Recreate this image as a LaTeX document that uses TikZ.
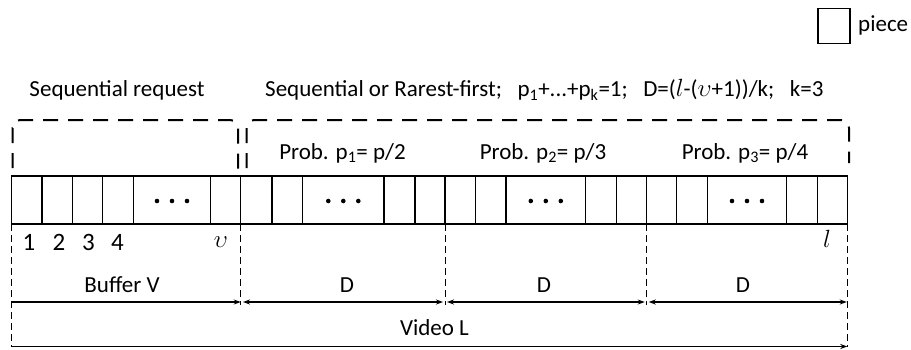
\documentclass[tikz,border=0pt]{standalone}
\usepackage{fontspec}
\setmainfont{Carlito}
\usetikzlibrary{arrows.meta}

\begin{document}
\begin{tikzpicture}[x=1pt,y=-1pt,
  cellline/.style={line width=1.4pt},
  guide/.style={line width=1pt, dash pattern=on 7pt off 4pt},
  bracket/.style={line width=2pt, dash pattern=on 15pt off 10pt, rounded corners=8pt},
  dimboth/.style={line width=1.5pt, {Stealth[length=7pt,width=5pt]}-{Stealth[length=7pt,width=5pt]}},
  dimone/.style={line width=1.5pt, -{Stealth[length=7pt,width=5pt]}},
  lbl/.style={font=\fontsize{23}{26}\selectfont, inner sep=0pt},
  digit/.style={font=\fontsize{25}{28}\selectfont, inner sep=0pt},
  dot/.style={circle, fill, inner sep=0pt, minimum size=4.6pt}]
\useasboundingbox (0,0) rectangle (911,349);

% cell boundaries of the piece bar
\def\bartop{176}
\def\barbot{224}
\foreach \i/\x in {0/11.7,1/42,2/72.3,3/102.7,4/133.3,5/210.7,6/240.7,
                   7/272,8/302.7,9/384,10/415,11/445,
                   12/475.7,13/506,14/585.7,15/616.3,16/646.7,
                   17/676.7,18/707.3,19/786.7,20/817.3,21/847.3}{
  \coordinate (t\i) at (\x,\bartop);
  \coordinate (b\i) at (\x,\barbot);
}

% the bar of pieces
\draw[cellline] (t0) rectangle (b21);
\foreach \i in {1,...,20}{ \draw[cellline] (t\i) -- (b\i); }

% ellipsis cells
\foreach \c/\x in {a/172,b/343.3,c/545.8,d/747}{
  \node[dot] (\c1) at (\x-15,201) {};
  \node[dot] (\c2) at (\x,201) {};
  \node[dot] (\c3) at (\x+15,201) {};
}

% dashed guides below the bar
\coordinate (g0) at (11.7,347);
\coordinate (g6) at (240.7,305);
\coordinate (g11) at (445,305);
\coordinate (g16) at (646.7,305);
\coordinate (g21) at (847.3,347);
\foreach \i in {0,6,11,16,21}{ \draw[guide] (b\i) -- (g\i); }

% dimension arrows
\coordinate (d0) at (11.7,302);
\coordinate (d6) at (240.7,302);
\coordinate (d6r) at (243,302);
\coordinate (d11l) at (443,302);
\coordinate (d11r) at (447,302);
\coordinate (d16l) at (644.7,302);
\coordinate (d16r) at (648.7,302);
\coordinate (d21) at (846.8,302);
\draw[dimone] (d0) -- (d6);
\draw[dimboth] (d6r) -- (d11l);
\draw[dimboth] (d11r) -- (d16l);
\draw[dimboth] (d16r) -- (d21);
\coordinate (v0) at (11.7,346.5);
\coordinate (v21) at (847.3,346.5);
\draw[dimone] (v0) -- (v21);

% dashed brackets on top
\draw[bracket] (12.5,168) -- (12.5,120) -- (238,120) -- (238,170);
\draw[bracket] (246.5,168) -- (246.5,120) -- (849,120) -- (849,163);

% labels
\node[lbl] (seqreq) at (117,90) {Sequential request};
\node[lbl, anchor=west] (rule) at (265,90)
  {Sequential or Rarest-first;\hspace{0.45em} p\textsubscript{1}+...+p\textsubscript{k}=1;\hspace{0.45em} D=($l$-($\upsilon$+1))/k;\hspace{0.45em} k=3};
\node[lbl] (prob1) at (342.5,153) {Prob. p\textsubscript{1}= p/2};
\node[lbl] (prob2) at (543,153) {Prob. p\textsubscript{2}= p/3};
\node[lbl] (prob3) at (745,153) {Prob. p\textsubscript{3}= p/4};

\node[digit] (n1) at (29,242) {1};
\node[digit] (n2) at (59,242) {2};
\node[digit] (n3) at (88.5,242) {3};
\node[digit] (n4) at (117.5,242) {4};
\node[font=\fontsize{28}{30}\selectfont, inner sep=0pt] (nv) at (221,242) {$\upsilon$};
\node[lbl] (nl) at (827,239) {$l$};

\node[lbl] (buf) at (122,285) {Buffer V};
\node[lbl] (dA) at (347,285) {D};
\node[lbl] (dB) at (544,285) {D};
\node[lbl] (dC) at (743,285) {D};
\node[lbl] (video) at (434.5,328) {Video L};

% legend
\node[draw, line width=1.4pt, minimum width=32pt, minimum height=35pt, inner sep=0pt] (key) at (834,26) {};
\node[lbl, anchor=west] (keytxt) at (858,25) {piece};
\end{tikzpicture}
\end{document}
